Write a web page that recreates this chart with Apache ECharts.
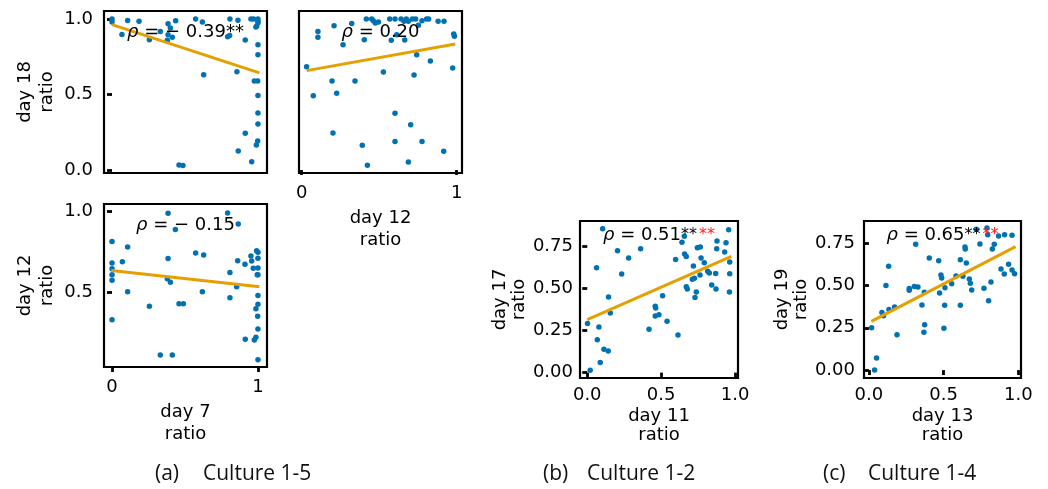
<!DOCTYPE html>
<html>
<head>
<meta charset="utf-8">
<script src="https://cdn.jsdelivr.net/npm/echarts@6/dist/echarts.min.js"></script>
<style>html,body{margin:0;padding:0;background:#fff;}#chart{width:1048px;height:489px;}</style>
</head>
<body>
<div id="chart"></div>
<script>
// ---------- DATA ----------
// Panel (a) top-left: x = day 7 ratio, y = day 18 ratio
const a_day7_vs_day18 = [
  [0,1.0],[0,0.98],[0.107,0.99],[0.185,0.985],[0.068,0.897],[0.256,0.863],[0.331,0.918],[0.384,0.969],
  [0.4,0.94],[0.436,0.989],[0.384,0.896],[0.413,0.879],[0.379,0.859],[0.573,1.0],[0.619,0.98],[0.628,0.63],
  [0.459,0.033],[0.486,0.029],[0.808,1.0],[0.863,0.991],[0.792,0.883],[0.806,0.89],[0.913,0.861],[0.856,0.65],
  [0.952,1.0],[0.97,1.0],[1.0,1.0],[1.0,0.985],[1.0,0.974],[0.991,0.952],[0.986,0.947],[1.0,0.83],
  [1.0,0.764],[0.975,0.59],[0.998,0.59],[1.0,0.493],[1.0,0.377],[1.0,0.304],[0.913,0.244],[0.998,0.192],
  [0.989,0.165],[0.865,0.126],[0.957,0.055]
];
// Panel (a) top-right: x = day 12 ratio, y = day 18 ratio
const a_day12_vs_day18 = [
  [0.032,0.684],[0.105,0.918],[0.105,0.879],[0.075,0.492],[0.209,0.956],[0.196,0.589],[0.226,0.508],[0.202,0.245],
  [0.267,0.83],[0.323,0.971],[0.344,0.589],[0.404,0.863],[0.417,1.0],[0.452,1.0],[0.462,0.989],[0.475,0.974],
  [0.391,0.163],[0.424,0.031],[0.495,0.98],[0.527,0.649],[0.568,1.0],[0.578,0.859],[0.602,1.0],[0.613,0.896],
  [0.602,0.375],[0.602,0.188],[0.641,1.0],[0.66,0.985],[0.665,0.861],[0.675,1.0],[0.688,0.985],[0.703,0.30],
  [0.688,0.053],[0.714,1.0],[0.735,1.0],[0.753,0.958],[0.725,0.629],[0.742,0.764],[0.776,0.989],[0.776,0.188],
  [0.806,1.0],[0.819,1.0],[0.83,0.722],[0.88,0.985],[0.918,0.985],[0.916,0.124],[0.981,0.901],[0.985,0.885],
  [0.974,0.675]
];
// Panel (a) bottom-left: x = day 7 ratio, y = day 12 ratio
const a_day7_vs_day12 = [
  [0,0.811],[0,0.679],[0,0.644],[0,0.607],[0,0.572],[0,0.329],[0.071,0.687],[0.107,0.778],
  [0.107,0.502],[0.256,0.412],[0.331,0.111],[0.413,0.111],[0.384,0.986],[0.434,0.885],[0.384,0.706],[0.379,0.582],
  [0.4,0.56],[0.459,0.428],[0.489,0.428],[0.573,0.741],[0.628,0.728],[0.619,0.502],[0.792,0.988],[0.865,0.92],
  [0.808,0.621],[0.808,0.465],[0.861,0.693],[0.854,0.533],[0.911,0.671],[0.913,0.208],[0.952,0.722],[0.957,0.691],
  [0.968,0.646],[0.991,0.755],[1.0,0.745],[1.0,0.708],[1.0,0.648],[0.995,0.607],[1.0,0.607],[1.0,0.479],
  [0.986,0.397],[1.0,0.424],[0.998,0.35],[1.0,0.272],[0.986,0.22],[0.975,0.204],[1.0,0.082]
];
// Panel (b): x = day 11 ratio, y = day 17 ratio
const b_day11_vs_day17 = [
  [0.002,0.292],[0.02,0.014],[0.063,0.625],[0.068,0.196],[0.079,0.272],[0.088,0.06],[0.104,0.857],[0.113,0.139],
  [0.142,0.129],[0.144,0.45],[0.156,0.355],[0.205,0.726],[0.233,0.587],[0.28,0.683],[0.361,0.738],[0.418,0.258],
  [0.46,0.395],[0.463,0.385],[0.46,0.337],[0.485,0.345],[0.51,0.458],[0.54,0.306],[0.598,0.673],[0.614,0.224],
  [0.641,0.776],[0.657,0.812],[0.659,0.706],[0.67,0.692],[0.67,0.512],[0.677,0.498],[0.711,0.556],[0.718,0.635],
  [0.725,0.562],[0.729,0.448],[0.738,0.48],[0.745,0.744],[0.765,0.748],[0.77,0.683],[0.763,0.581],[0.792,0.655],
  [0.815,0.603],[0.826,0.593],[0.842,0.522],[0.871,0.498],[0.878,0.784],[0.876,0.738],[0.869,0.591],[0.93,0.718],
  [0.939,0.774],[0.957,0.851],[0.964,0.659],[0.964,0.589],[0.962,0.48]
];
// Panel (c): x = day 13 ratio, y = day 19 ratio
const c_day13_vs_day19 = [
  [0.018,0.251],[0.038,0.0],[0.051,0.071],[0.087,0.341],[0.098,0.322],[0.114,0.501],[0.132,0.614],[0.134,0.359],
  [0.172,0.373],[0.188,0.209],[0.27,0.482],[0.27,0.472],[0.304,0.495],[0.328,0.491],[0.313,0.744],[0.355,0.385],
  [0.371,0.46],[0.373,0.268],[0.368,0.223],[0.404,0.663],[0.467,0.647],[0.473,0.456],[0.482,0.562],[0.487,0.545],
  [0.509,0.487],[0.507,0.383],[0.502,0.247],[0.554,0.511],[0.583,0.557],[0.612,0.653],[0.612,0.383],[0.629,0.555],
  [0.643,0.728],[0.645,0.716],[0.652,0.634],[0.672,0.539],[0.679,0.513],[0.688,0.474],[0.719,0.833],[0.743,0.746],
  [0.77,0.484],[0.79,0.841],[0.795,0.80],[0.801,0.41],[0.817,0.521],[0.826,0.716],[0.839,0.744],[0.868,0.793],
  [0.884,0.598],[0.906,0.568],[0.908,0.801],[0.935,0.626],[0.958,0.592],[0.958,0.797],[0.975,0.57]
];
// Fitted regression lines (end points)
const fit_a_tl = [[0,0.963],[1.01,0.643]];
const fit_a_tr = [[0.032,0.658],[0.991,0.834]];
const fit_a_bl = [[-0.005,0.632],[1.01,0.533]];
const fit_b = [[0.0,0.315],[0.975,0.692]];
const fit_c = [[0.016,0.288],[0.982,0.73]];

// Tick values
const ticks01 = [0, 1];
const ticksA_tl_y = [0, 0.5, 1];
const ticksA_bl_y = [0.5, 1];
const ticksBC_x = [0, 0.5, 1];
const ticksBC_y = [0, 0.25, 0.5, 0.75];

// Annotation texts
const rhoTexts = ['\u2212 0.39**', '0.20', '\u2212 0.15', '0.51{st|**}', '0.65{st|**}'];
const captionLetters = ['(a)', '(b)', '(c)'];
const captionNames = ['Culture 1-5', 'Culture 1-2', 'Culture 1-4'];

// ---------- LAYOUT ----------
const FONT = 'DejaVu Sans';
const BLUE = '#0072B2';
const ORANGE = '#E69F00';
const panels = [
  {grid:{left:104,top:11,width:163,height:162}, xr:[-0.055,1.062], yr:[-0.02,1.053], xt:null, yt:ticksA_tl_y, xd:0, yd:1,
   xname:'', yname:'day 18\nratio', data:a_day7_vs_day18, fit:fit_a_tl, ymargin:11, xmargin:11, ygap:46, xgap:34, lh:22},
  {grid:{left:299,top:11,width:163,height:162}, xr:[-0.017,1.034], yr:[-0.02,1.053], xt:ticks01, yt:null, xd:0, yd:1,
   xname:'day 12\nratio', yname:'', data:a_day12_vs_day18, fit:fit_a_tr, ymargin:11, xmargin:11, ygap:46, xgap:34, lh:22},
  {grid:{left:104,top:204,width:163,height:163}, xr:[-0.055,1.062], yr:[0.037,1.043], xt:ticks01, yt:ticksA_bl_y, xd:0, yd:1,
   xname:'day 7\nratio', yname:'day 12\nratio', data:a_day7_vs_day12, fit:fit_a_bl, ymargin:11, xmargin:11, ygap:46, xgap:34, lh:22},
  {grid:{left:580,top:221,width:158,height:157}, xr:[-0.049,1.02], yr:[-0.032,0.903], xt:ticksBC_x, yt:ticksBC_y, xd:1, yd:2,
   xname:'day 11\nratio', yname:'day 17\nratio', data:b_day11_vs_day17, fit:fit_b, ymargin:7, xmargin:8, ygap:50, xgap:29, lh:19},
  {grid:{left:864,top:221,width:157,height:157}, xr:[-0.033,1.018], yr:[-0.047,0.882], xt:ticksBC_x, yt:ticksBC_y, xd:1, yd:2,
   xname:'day 13\nratio', yname:'day 19\nratio', data:c_day13_vs_day19, fit:fit_c, ymargin:9, xmargin:8, ygap:51, xgap:29, lh:19}
];
const rhoY = [32, 32, 225, 235, 235];

const grids = [], xAxes = [], yAxes = [], series = [], graphics = [];
const labelStyle = {fontFamily: FONT, fontSize: 18, color: '#000'};

panels.forEach((p, i) => {
  grids.push(Object.assign({show:true, borderColor:'#000', borderWidth:2.2, backgroundColor:'#fff', containLabel:false}, p.grid));
  const tickStyle = {show:true, inside:false, length:5, lineStyle:{color:'#000', width:2.8}};
  xAxes.push({
    type:'value', gridIndex:i, min:p.xr[0], max:p.xr[1],
    splitLine:{show:false}, axisLine:{show:false},
    axisTick: p.xt ? Object.assign({customValues:p.xt}, tickStyle) : {show:false},
    axisLabel: p.xt ? Object.assign({show:true, customValues:p.xt, margin:p.xmargin, formatter:(v)=>Number(v).toFixed(p.xd)}, labelStyle) : {show:false},
    name:p.xname, nameLocation:'middle', nameGap:p.xgap,
    nameTextStyle:{fontFamily:FONT, fontSize:18, color:'#000', lineHeight:p.lh, verticalAlign:'top'}
  });
  yAxes.push({
    type:'value', gridIndex:i, min:p.yr[0], max:p.yr[1],
    splitLine:{show:false}, axisLine:{show:false},
    axisTick: p.yt ? Object.assign({customValues:p.yt}, tickStyle) : {show:false},
    axisLabel: p.yt ? Object.assign({show:true, customValues:p.yt, margin:p.ymargin, formatter:(v)=>Number(v).toFixed(p.yd)}, labelStyle) : {show:false},
    name:p.yname, nameLocation:'middle', nameGap:p.ygap, nameRotate:90,
    nameTextStyle:{fontFamily:FONT, fontSize:18, color:'#000', lineHeight:p.lh}
  });
  series.push({
    type:'scatter', xAxisIndex:i, yAxisIndex:i, data:p.data, symbolSize:5.5,
    itemStyle:{color:BLUE, opacity:1}, silent:true, z:2
  });
  series.push({
    type:'line', xAxisIndex:i, yAxisIndex:i, data:p.fit, showSymbol:false, symbol:'none',
    lineStyle:{color:ORANGE, width:3}, silent:true, z:3
  });
  const cx = p.grid.left + p.grid.width / 2;
  const stars = (i >= 3) ? '{red|**}' : '';
  graphics.push({
    type:'text', x:cx, y:rhoY[i], z:100,
    style:{
      text:'{i|\u03C1} = ' + rhoTexts[i] + stars,
      fontFamily:FONT, fontSize:18, fill:'#000', align:'center', verticalAlign:'middle',
      rich:{
        i:{fontFamily:FONT, fontSize:18, fontStyle:'italic', fill:'#000'},
        st:{fontFamily:FONT, fontSize:16, fill:'#000', padding:[0,2,0,0]},
        red:{fontFamily:FONT, fontSize:16, fill:'#ff2020'}
      }
    }
  });
});

const capLetterX = [155, 543, 823];
const capNameX = [203, 587, 868];
captionLetters.forEach((c, i) => {
  graphics.push({type:'text', x:capLetterX[i], y:474, style:{text:c, fontFamily:'Open Sans', fontSize:21, fill:'#111', align:'left', verticalAlign:'middle'}});
  graphics.push({type:'text', x:capNameX[i], y:474, style:{text:captionNames[i], fontFamily:'Open Sans', fontSize:21, fill:'#111', align:'left', verticalAlign:'middle'}});
});

const chart = echarts.init(document.getElementById('chart'), null, {renderer:'canvas', width:1048, height:489});
chart.setOption({
  backgroundColor:'#fff',
  animation:false,
  grid:grids, xAxis:xAxes, yAxis:yAxes, series:series, graphic:graphics
});
</script>
</body>
</html>
